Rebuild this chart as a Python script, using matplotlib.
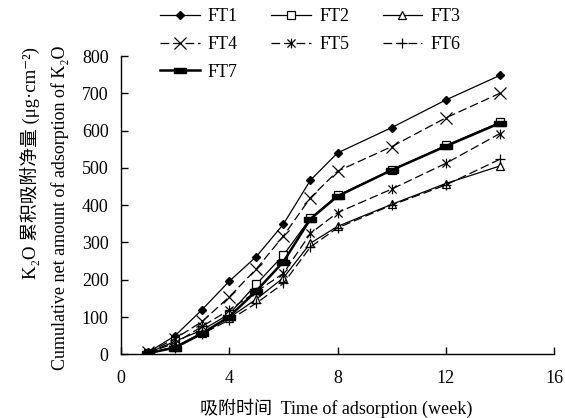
import matplotlib
matplotlib.use('Agg')
import matplotlib.pyplot as plt
from matplotlib.path import Path
import numpy as np

# Data
weeks = [1, 2, 3, 4, 5, 6, 7, 8, 10, 12, 14]
ft1 = [5, 50, 120, 196, 262, 349, 467, 540, 608, 682, 748]
ft2 = [4, 35, 65, 108, 188, 266, 365, 426, 494, 560, 622]
ft3 = [3, 20, 58, 98, 148, 205, 298, 343, 402, 458, 505]
ft4 = [5, 42, 88, 154, 229, 317, 420, 491, 557, 634, 700]
ft5 = [4, 30, 75, 119, 168, 217, 324, 380, 443, 512, 592]
ft6 = [3, 18, 55, 92, 137, 190, 288, 339, 400, 454, 523]
ft7 = [3, 18, 56, 101, 170, 248, 363, 424, 494, 558, 620]
labels = ["FT1", "FT2", "FT3", "FT4", "FT5", "FT6", "FT7"]

xticks = [0, 4, 8, 12, 16]
yticks = [0, 100, 200, 300, 400, 500, 600, 700, 800]

######################################################################

serif = ['Liberation Serif', 'DejaVu Serif', 'Noto Sans CJK SC']
plt.rcParams['font.family'] = serif

# custom markers
star = Path([(-1, -1), (1, 1), (-1, 1), (1, -1), (0, -1.2), (0, 1.2)],
            [Path.MOVETO, Path.LINETO, Path.MOVETO, Path.LINETO, Path.MOVETO, Path.LINETO])
bar = Path([(-1, -0.45), (1, -0.45), (1, 0.45), (-1, 0.45), (-1, -0.45)],
           [Path.MOVETO, Path.LINETO, Path.LINETO, Path.LINETO, Path.CLOSEPOLY])

styles = [
    dict(ls='-', lw=0.9, marker='D', ms=4, mfc='black', mec='black'),
    dict(ls='-', lw=0.9, marker='s', ms=6, mfc='white', mec='black', mew=0.9),
    dict(ls='-', lw=0.9, marker='^', ms=6, mfc='white', mec='black', mew=0.9),
    dict(ls=(0, (7, 3)), lw=0.9, marker='x', ms=8, mec='black', mew=0.9),
    dict(ls=(0, (7, 3)), lw=0.9, marker=star, ms=7, mec='black', mew=0.9),
    dict(ls=(0, (7, 3)), lw=0.9, marker='+', ms=7, mec='black', mew=0.9),
    dict(ls='-', lw=1.8, marker=bar, ms=8, mfc='black', mec='black'),
]

fig = plt.figure(figsize=(5.65, 4.18), dpi=100)
ax = fig.add_axes([0.2142, 0.1524, 0.7663, 0.7136])

handles = []
for lab, vals, st in zip(labels, [ft1, ft2, ft3, ft4, ft5, ft6, ft7], styles):
    h, = ax.plot(weeks, vals, color='black', label=lab, **st)
    handles.append(h)

ax.set_xlim(0, 16)
ax.set_ylim(0, 800)
ax.set_xticks(xticks)
ax.set_yticks(yticks)
ax.spines['top'].set_visible(False)
ax.spines['right'].set_visible(False)
for s in ['left', 'bottom']:
    ax.spines[s].set_linewidth(1.0)
ax.tick_params(axis='both', direction='in', length=5, width=1.0, labelsize=13)
ax.tick_params(axis='x', pad=11)
ax.tick_params(axis='y', pad=9)

# legend laid out row by row (matplotlib fills columns first)
order = [0, 3, 6, 1, 4, 2, 5]
fig.legend([handles[i] for i in order], [labels[i] for i in order],
           loc='upper left', bbox_to_anchor=(160/565, 1 - 8/418), ncol=3,
           frameon=False, fontsize=13, handlelength=2.2, handletextpad=0.45,
           columnspacing=1.85, labelspacing=0.6, borderpad=0, borderaxespad=0)

# axis labels
fig.text(30/565, 1 - 47/418, "K\u2082O 累积吸附净量 (μg·cm\u207b\u00b2)",
         rotation=90, ha='center', va='top', fontsize=13.5, family=serif)
fig.text(60/565, 1 - 45/418, "Cumulative net amount of adsorption of K\u2082O",
         rotation=90, ha='center', va='top', fontsize=13, family=serif)
fig.text(336/565, 1 - 408/418, "吸附时间  Time of adsorption (week)",
         ha='center', va='center', fontsize=13, family=serif)

plt.savefig('out.png', dpi=100)
